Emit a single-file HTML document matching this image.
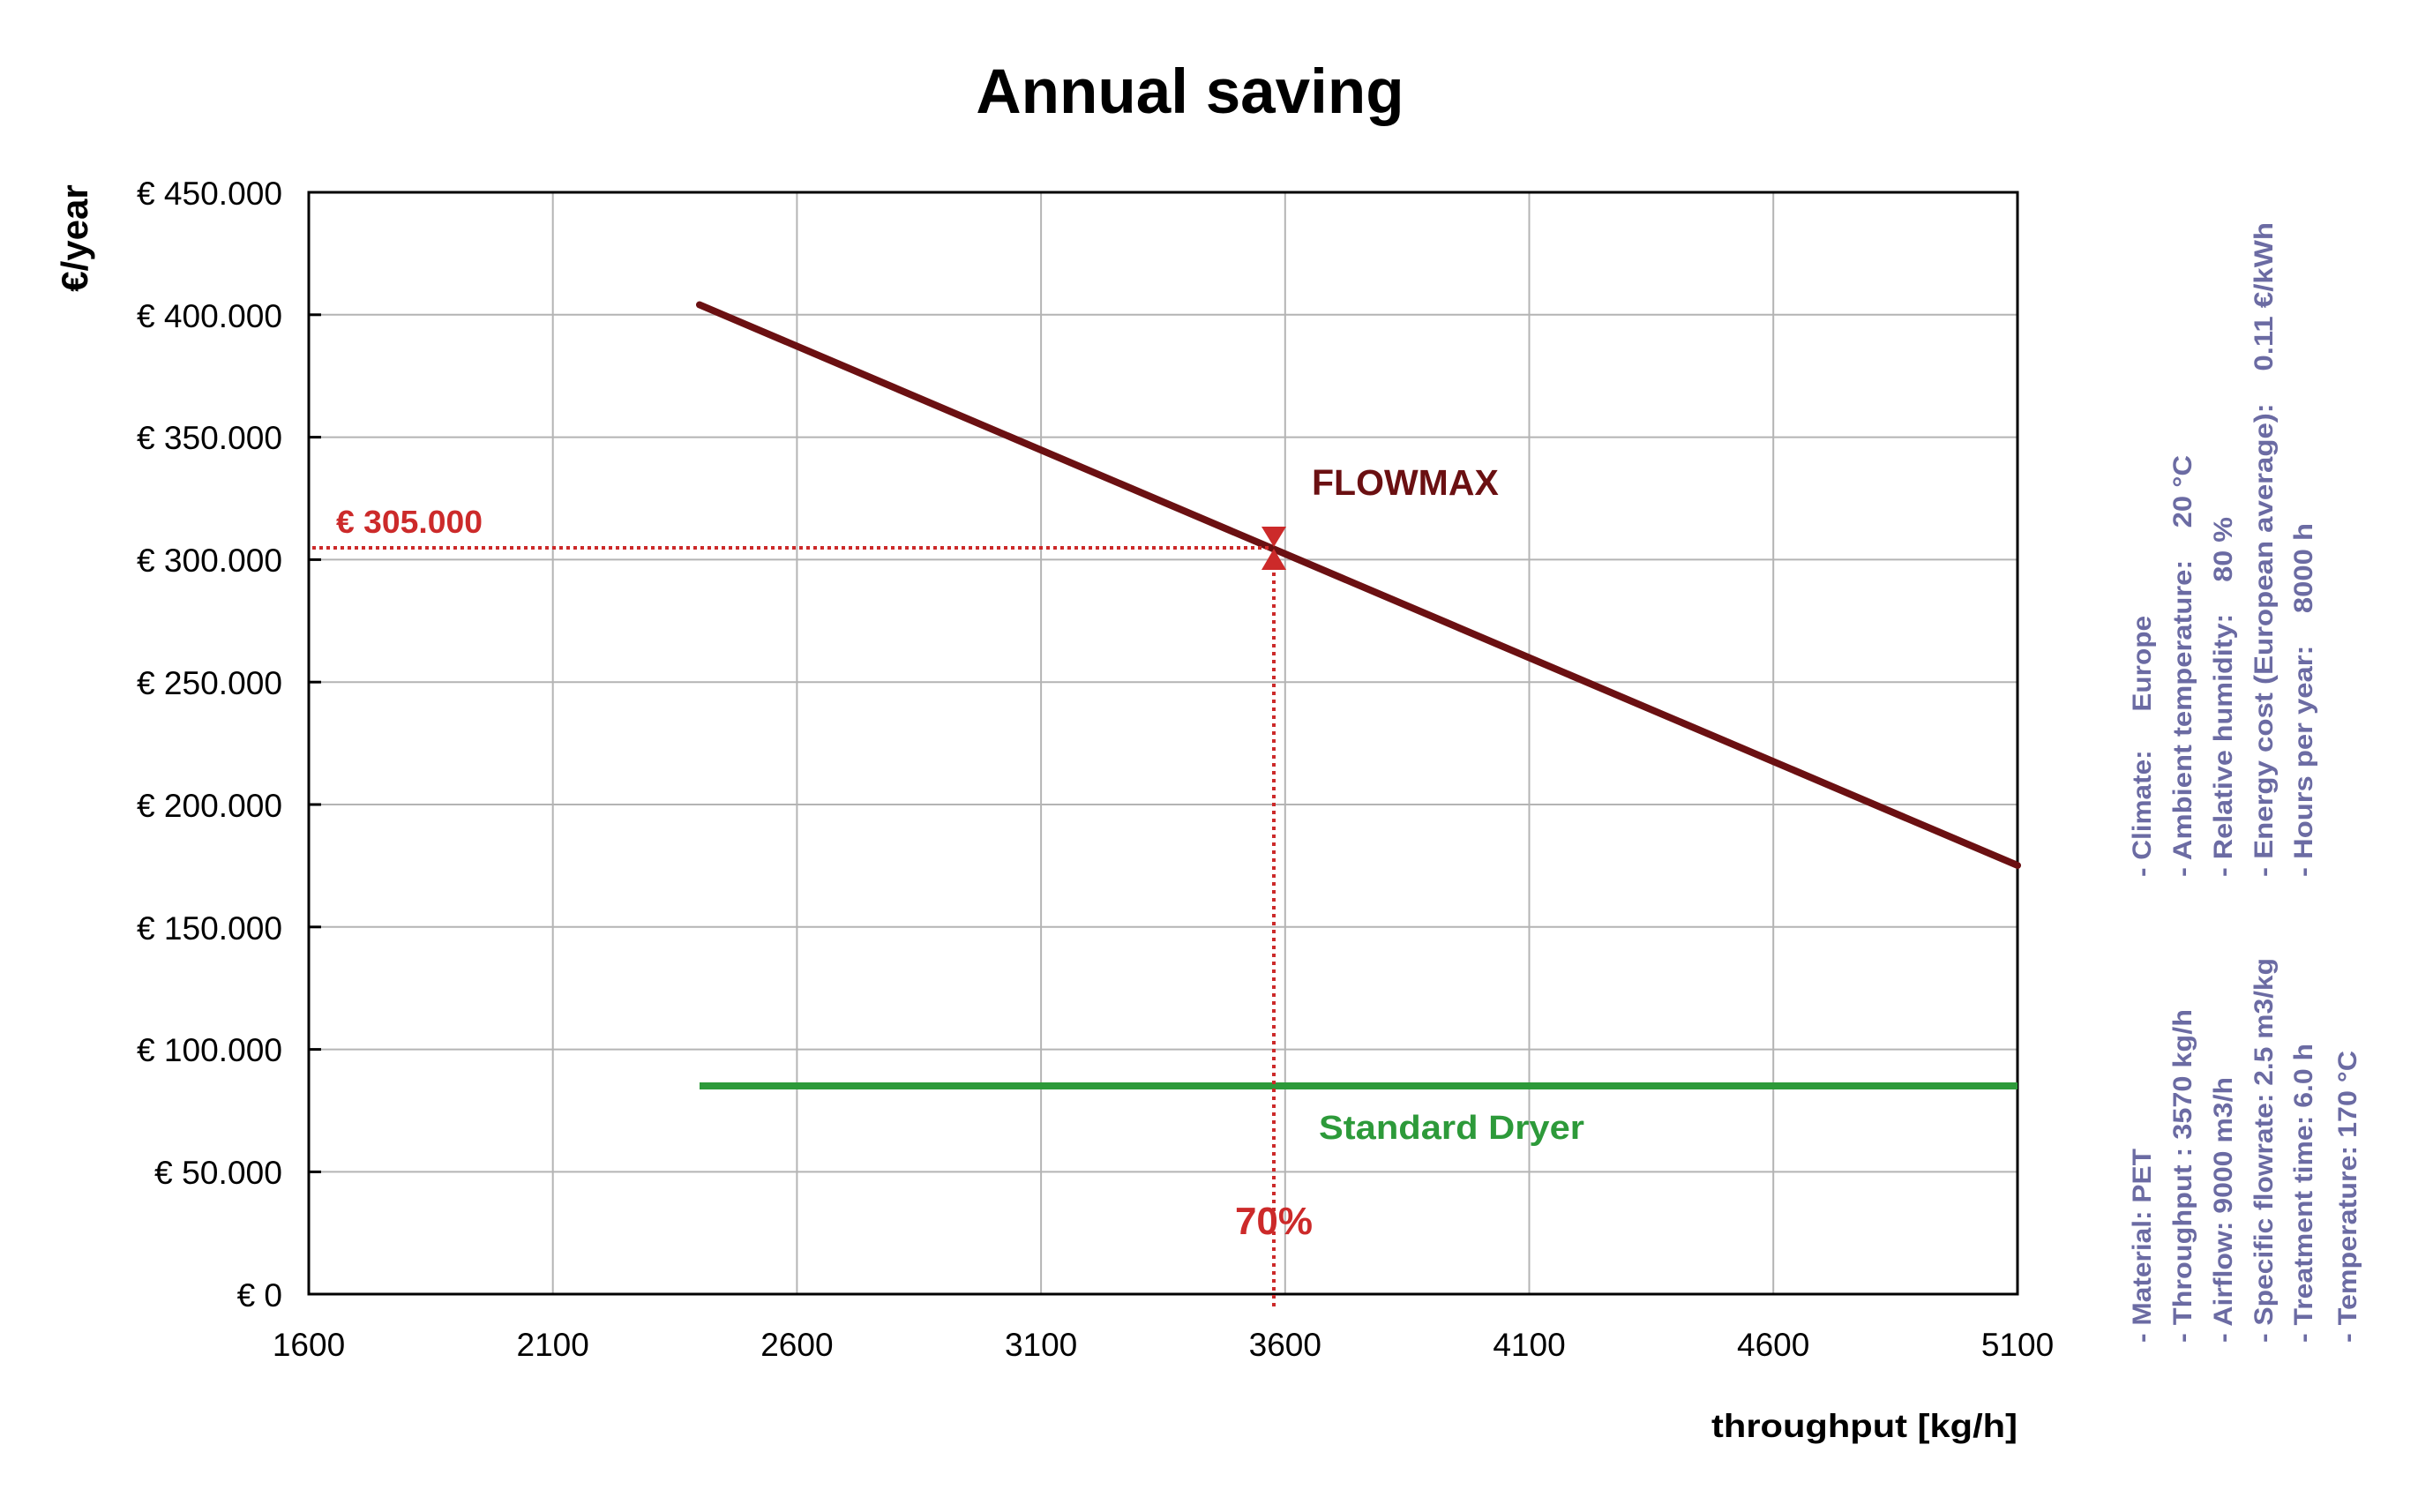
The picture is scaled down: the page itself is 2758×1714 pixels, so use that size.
<!DOCTYPE html>
<html><head><meta charset="utf-8"><style>html,body{margin:0;padding:0;background:#fff}svg{display:block}</style></head>
<body>
<svg width="2758" height="1714" xmlns="http://www.w3.org/2000/svg" font-family="Liberation Sans, Arial, sans-serif">
<rect width="2758" height="1714" fill="#fff"/>
<text x="1349" y="128" font-size="71" font-weight="bold" text-anchor="middle">Annual saving</text>
<g stroke="#b4b4b4" stroke-width="2">
<line x1="626.7" y1="218" x2="626.7" y2="1467"/><line x1="903.4" y1="218" x2="903.4" y2="1467"/>
<line x1="1180.1" y1="218" x2="1180.1" y2="1467"/><line x1="1456.8" y1="218" x2="1456.8" y2="1467"/>
<line x1="1733.5" y1="218" x2="1733.5" y2="1467"/><line x1="2010.2" y1="218" x2="2010.2" y2="1467"/>
<line x1="350" y1="356.8" x2="2287" y2="356.8"/><line x1="350" y1="495.6" x2="2287" y2="495.6"/>
<line x1="350" y1="634.4" x2="2287" y2="634.4"/><line x1="350" y1="773.2" x2="2287" y2="773.2"/>
<line x1="350" y1="912" x2="2287" y2="912"/><line x1="350" y1="1050.8" x2="2287" y2="1050.8"/>
<line x1="350" y1="1189.6" x2="2287" y2="1189.6"/><line x1="350" y1="1328.4" x2="2287" y2="1328.4"/>
</g>
<rect x="350" y="218" width="1937" height="1249" fill="none" stroke="#000" stroke-width="3"/>
<g stroke="#000" stroke-width="3">
<line x1="350" y1="356.8" x2="364" y2="356.8"/><line x1="350" y1="495.6" x2="364" y2="495.6"/><line x1="350" y1="634.4" x2="364" y2="634.4"/><line x1="350" y1="773.2" x2="364" y2="773.2"/><line x1="350" y1="912" x2="364" y2="912"/><line x1="350" y1="1050.8" x2="364" y2="1050.8"/><line x1="350" y1="1189.6" x2="364" y2="1189.6"/><line x1="350" y1="1328.4" x2="364" y2="1328.4"/>
</g>
<g font-size="37" text-anchor="end">
<text x="320" y="232" textLength="165" lengthAdjust="spacingAndGlyphs">€ 450.000</text>
<text x="320" y="371" textLength="165" lengthAdjust="spacingAndGlyphs">€ 400.000</text>
<text x="320" y="509" textLength="165" lengthAdjust="spacingAndGlyphs">€ 350.000</text>
<text x="320" y="648" textLength="165" lengthAdjust="spacingAndGlyphs">€ 300.000</text>
<text x="320" y="787" textLength="165" lengthAdjust="spacingAndGlyphs">€ 250.000</text>
<text x="320" y="926" textLength="165" lengthAdjust="spacingAndGlyphs">€ 200.000</text>
<text x="320" y="1065" textLength="165" lengthAdjust="spacingAndGlyphs">€ 150.000</text>
<text x="320" y="1203" textLength="165" lengthAdjust="spacingAndGlyphs">€ 100.000</text>
<text x="320" y="1342" textLength="145" lengthAdjust="spacingAndGlyphs">€ 50.000</text>
<text x="320" y="1481">€ 0</text>
</g>
<g font-size="37" text-anchor="middle">
<text x="350" y="1537">1600</text><text x="626.7" y="1537">2100</text><text x="903.4" y="1537">2600</text><text x="1180.1" y="1537">3100</text><text x="1456.8" y="1537">3600</text><text x="1733.5" y="1537">4100</text><text x="2010.2" y="1537">4600</text><text x="2287" y="1537">5100</text>
</g>
<text x="2287" y="1629" font-size="37" font-weight="bold" text-anchor="end" textLength="347" lengthAdjust="spacingAndGlyphs">throughput [kg/h]</text>
<text transform="translate(99,270) rotate(-90)" font-size="42" font-weight="bold" text-anchor="middle">€/year</text>
<line x1="793" y1="345.5" x2="2287" y2="981" stroke="#6b1012" stroke-width="8" stroke-linecap="round"/>
<line x1="793" y1="1231" x2="2287" y2="1231" stroke="#2d9a3a" stroke-width="8"/>
<line x1="354" y1="621" x2="1440" y2="621" stroke="#cc2a2a" stroke-width="4" stroke-dasharray="4,4"/>
<line x1="1444" y1="640" x2="1444" y2="1484" stroke="#cc2a2a" stroke-width="4" stroke-dasharray="4,5"/>
<polygon points="1430,597 1458,597 1444,620" fill="#cc2a2a"/>
<polygon points="1430,646 1458,646 1444,622" fill="#cc2a2a"/>
<text x="381" y="604" font-size="36" font-weight="bold" fill="#cc2a2a" textLength="166" lengthAdjust="spacingAndGlyphs">€ 305.000</text>
<text x="1487" y="561" font-size="41" font-weight="bold" fill="#6b1012">FLOWMAX</text>
<text x="1495" y="1291" font-size="38" font-weight="bold" fill="#2d9a3a" textLength="301" lengthAdjust="spacingAndGlyphs">Standard Dryer</text>
<text x="1444" y="1399" font-size="44" font-weight="bold" fill="#cc2a2a" text-anchor="middle">70%</text>
<g font-size="30" font-weight="bold" fill="#6b6ba3">
<text transform="translate(2438,994) rotate(-90)" textLength="296" lengthAdjust="spacingAndGlyphs">- Climate:&#160;&#160;&#160;&#160;&#160;Europe</text>
<text transform="translate(2484,994) rotate(-90)" textLength="478" lengthAdjust="spacingAndGlyphs">- Ambient temperature:&#160;&#160;&#160;&#160;20 °C</text>
<text transform="translate(2530,994) rotate(-90)" textLength="408" lengthAdjust="spacingAndGlyphs">- Relative humidity:&#160;&#160;&#160;&#160;80 %</text>
<text transform="translate(2576,994) rotate(-90)" textLength="742" lengthAdjust="spacingAndGlyphs">- Energy cost (European average):&#160;&#160;&#160;&#160;0.11 €/kWh</text>
<text transform="translate(2621,994) rotate(-90)" textLength="401" lengthAdjust="spacingAndGlyphs">- Hours per year:&#160;&#160;&#160;&#160;8000 h</text>
<text transform="translate(2438,1522) rotate(-90)" textLength="220" lengthAdjust="spacingAndGlyphs">- Material: PET</text>
<text transform="translate(2484,1522) rotate(-90)" textLength="378" lengthAdjust="spacingAndGlyphs">- Throughput : 3570 kg/h</text>
<text transform="translate(2530,1522) rotate(-90)" textLength="301" lengthAdjust="spacingAndGlyphs">- Airflow: 9000 m3/h</text>
<text transform="translate(2576,1522) rotate(-90)" textLength="436" lengthAdjust="spacingAndGlyphs">- Specific flowrate: 2.5 m3/kg</text>
<text transform="translate(2621,1522) rotate(-90)" textLength="339" lengthAdjust="spacingAndGlyphs">- Treatment time: 6.0 h</text>
<text transform="translate(2671,1522) rotate(-90)" textLength="331" lengthAdjust="spacingAndGlyphs">- Temperature: 170 °C</text>
</g>
</svg>
</body></html>
